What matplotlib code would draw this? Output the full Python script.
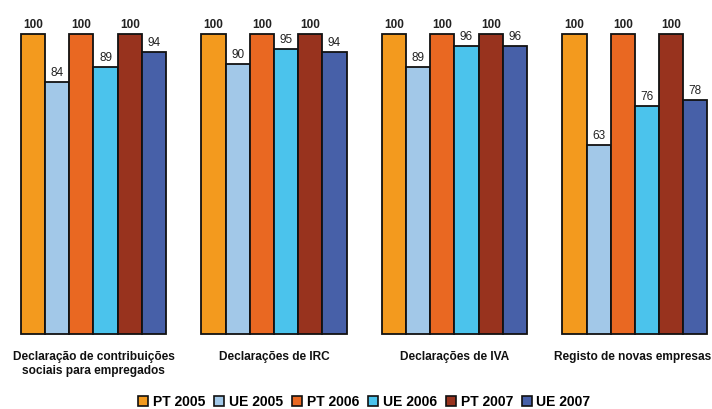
import matplotlib
matplotlib.use("Agg")
import matplotlib.pyplot as plt
from matplotlib.patches import Patch

plt.rcParams["font.family"] = ["Liberation Sans", "DejaVu Sans"]

# data
categories = [
    "Declaração de contribuições\nsociais para empregados",
    "Declarações de IRC",
    "Declarações de IVA",
    "Registo de novas empresas",
]
series_names = ["PT 2005", "UE 2005", "PT 2006", "UE 2006", "PT 2007", "UE 2007"]
pt_2005 = [100, 100, 100, 100]
ue_2005 = [84, 90, 89, 63]
pt_2006 = [100, 100, 100, 100]
ue_2006 = [89, 95, 96, 76]
pt_2007 = [100, 100, 100, 100]
ue_2007 = [94, 94, 96, 78]
series_values = [pt_2005, ue_2005, pt_2006, ue_2006, pt_2007, ue_2007]

colors = ["#F39A1E", "#A2C8E8", "#E96822", "#4BC3EC", "#98331E", "#4760A8"]

fig = plt.figure(figsize=(7.12, 4.09), dpi=100)
ax = fig.add_axes([0, 0, 1, 1])
ax.set_axis_off()

w = 0.134
for k, (name, vals) in enumerate(zip(series_names, series_values)):
    xs = [i + (k - 2.5) * w for i in range(len(categories))]
    bars = ax.bar(xs, vals, width=w, color=colors[k], edgecolor="#111111",
                  linewidth=1.3, label=name)
    bold = name.startswith("PT")
    for b, v in zip(bars, vals):
        ax.annotate(f"{v}", (b.get_x() + b.get_width() / 2, v),
                    xytext=(0, 2.5), textcoords="offset points",
                    ha="center", va="bottom", fontsize=8.5,
                    fontweight="bold" if bold else "normal", color="#222222")

ax.set_xlim(-0.518, 3.427)
ax.set_ylim(-25, 111.33)

for i, cat in enumerate(categories):
    if i == len(categories) - 1:
        # keep the last label inside the figure
        ax.text(3.421, -5.6, cat, ha="right", va="top", fontsize=8.6,
                fontweight="bold", color="#111111")
    else:
        ax.text(i, -5.6, cat, ha="center", va="top", fontsize=8.6,
                fontweight="bold", linespacing=1.2, color="#111111")

handles = [Patch(facecolor=c, edgecolor="#111111", linewidth=1.2, label=n)
           for c, n in zip(colors, series_names)]
fig.legend(handles=handles, loc="center", bbox_to_anchor=(0.512, 0.018), ncol=6,
           frameon=False, prop={"weight": "bold", "size": 10},
           handlelength=0.7, handleheight=0.7, handletextpad=0.35,
           columnspacing=0.65)

fig.savefig("out.png", dpi=100)
